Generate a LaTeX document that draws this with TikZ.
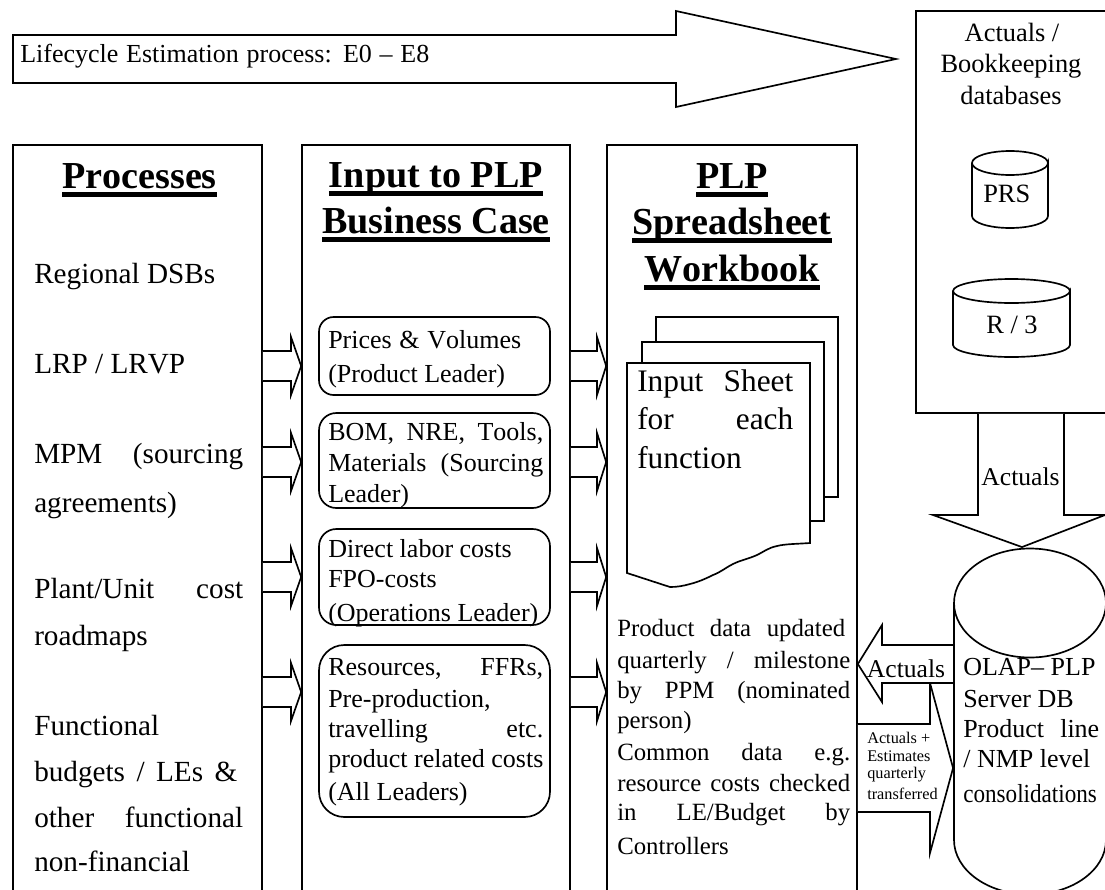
\documentclass[tikz,border=0pt]{standalone}
\usepackage{fontspec}
\usepackage{graphicx}
\setmainfont[Kerning=Off]{Liberation Serif}
\newlength\ulw
\newcommand\UL[1]{\settowidth\ulw{#1}\rlap{\rule[-0.237em]{\ulw}{0.13em}}#1}
\newcommand\fs[1]{\fontsize{#1}{#1}\selectfont}
\newcommand\Ln[6][19.5]{\node[txt,font=\fs{#1}] (#2) at (#3,#4) {\makebox[\dimexpr #5pt*3/4\relax][s]{#6}};}
\newcommand\Lf[5][19.5]{\node[txt,font=\fs{#1}] (#2) at (#3,#4) {#5};}
\newcommand\Ct[5][19.5]{\node[ctr,font=\fs{#1}] (#2) at (#3,#4) {#5};}
% right-pointing block arrow: from node, to node, y, head x, half shaft, half head
\newcommand\RArrow[6]{\draw[blk] (#1.east|-0,{#3-#5}) -- (#4,{#3-#5}) -- (#4,{#3-#6}) -- (#2.west|-0,#3) -- (#4,{#3+#6}) -- (#4,{#3+#5}) -- (#1.east|-0,{#3+#5});}
\tikzset{
 x=0.75pt,y=-0.75pt,
 panel/.style={draw,line width=1.25pt,fill=white,inner sep=0pt},
 blk/.style={draw,line width=1.25pt,fill=white,line join=miter},
 txt/.style={anchor=base west,inner sep=0pt},
 ctr/.style={anchor=base,inner sep=0pt,align=center},
 card/.style={draw,line width=1.25pt,fill=white},
}
\begin{document}
\begin{tikzpicture}
\useasboundingbox (0,0) rectangle (1105,889);
\clip (0,0) rectangle (1105,889);
\fill[white] (0,0) rectangle (1105,889);
% panels
\node[panel,minimum width=186.75pt,minimum height=603.75pt] (proc) at (137.5,547.5) {};
\node[panel,minimum width=201pt,minimum height=603.75pt] (inp) at (436,547.5) {};
\node[panel,minimum width=187.5pt,minimum height=603.75pt] (plp) at (732,547.5) {};
\node[panel,minimum width=213pt,minimum height=301.5pt] (act) at (1058,212) {};
% big arrow
\draw[blk] (13,35) -- (676,35) -- (676,11) -- (896,59) -- (676,107) -- (676,83) -- (13,83) -- cycle;
\Ln[19.5]{lctext}{20}{62}{409}{Lifecycle Estimation process: E0 – E8}
% headings
\Ct[28.6]{h1}{139.5}{188}{\textbf{\UL{Processes}}}
\Ct[28.6]{h2a}{436}{187}{\textbf{\UL{Input to PLP}}}
\Ct[28.6]{h2b}{436}{233}{\textbf{\UL{Business Case}}}
\Ct[28.6]{h3a}{732}{188}{\textbf{\UL{PLP}}}
\Ct[28.6]{h3b}{732}{234}{\textbf{\UL{Spreadsheet}}}
\Ct[28.6]{h3c}{732}{281}{\textbf{\UL{Workbook}}}
% processes text
\Lf[21.9]{p1}{34}{283}{Regional DSBs}
\Lf[21.9]{p2}{34}{373}{LRP / LRVP}
\Ln[21.9]{p3}{34}{463}{209}{MPM (sourcing}
\Lf[21.9]{p4}{34}{512}{agreements)}
\Ln[21.9]{p5}{34}{598}{209}{Plant/Unit cost}
\Lf[21.9]{p6}{34}{645}{roadmaps}
\Lf[21.9]{p7}{34}{735}{Functional}
\Ln[21.9]{p8}{34}{781}{203}{budgets / LEs \&}
\Ln[21.9]{p9}{34}{827}{209}{other functional}
\Lf[21.9]{p10}{34}{871}{non-financial}
% input cards
\draw[card,rounded corners=11pt] (319,317) rectangle (550,395);
\draw[card,rounded corners=13pt] (319,413) rectangle (550,508);
\draw[card,rounded corners=13pt] (319,529) rectangle (550,625);
\draw[card,rounded corners=19pt] (319,645) rectangle (550,817);
\Ln{c1a}{328}{348}{193}{Prices \& Volumes}
\Lf{c1b}{328}{382}{(Product Leader)}
\Ln{c2a}{328}{440}{215}{BOM, NRE, Tools,}
\Ln{c2b}{328}{471}{215}{Materials (Sourcing}
\Lf{c2c}{328}{502}{Leader)}
\Lf{c3a}{328}{557}{Direct labor costs}
\Lf{c3b}{328}{587}{FPO-costs}
\Lf{c3c}{328}{621}{(Operations Leader)}
\Ln{c4a}{328}{675}{215}{Resources, FFRs,}
\Lf{c4b}{328}{707}{Pre-production,}
\Ln{c4c}{328}{737}{215}{travelling etc.}
\Lf{c4d}{328}{767}{product related costs}
\Lf{c4e}{328}{800}{(All Leaders)}
% small arrows
\foreach \yy in {366,462,577,692} {\RArrow{proc}{inp}{\yy}{291}{15}{29}}
\foreach \yy in {366,462,577,692} {\RArrow{inp}{plp}{\yy}{597}{15}{29}}
% document stack
\draw[blk] (656,317) rectangle (838,497);
\draw[blk] (642,342) rectangle (824,521);
\draw[blk] (627,363) -- (810,363) -- (810,543) .. controls (795,544) and (785,544) .. (777,546) .. controls (768,548) and (765,551) .. (757,555) .. controls (748,559) and (741,560) .. (733,564) .. controls (725,568) and (721,572) .. (713,575) .. controls (705,579) and (698,582) .. (690,584) .. controls (683,586) and (677,587) .. (670,587) -- (627,573) -- cycle;
\Ln[23.5]{d1}{637}{391}{156}{Input Sheet}
\Ln[23.5]{d2}{637}{429}{156}{for each}
\Lf[23.5]{d3}{637}{468}{function}
% plp text
\Ln[18.6]{t1}{617}{636}{228}{Product data updated}
\Ln[18.6]{t2}{617}{668}{233}{quarterly / milestone}
\Ln[18.6]{t3}{617}{698}{233}{by PPM (nominated}
\Lf[18.6]{t4}{617}{728}{person)}
\Ln[18.6]{t5}{617}{760}{233}{Common data e.g.}
\Ln[18.6]{t6}{617}{791}{233}{resource costs checked}
\Ln[18.6]{t7}{617}{820}{233}{in LE/Budget by}
\Lf[18.6]{t8}{617}{854}{Controllers}
% actuals box
\Ct[19.8]{a1}{1012}{41}{Actuals /}
\Ct[19.8]{a2}{1011}{72}{Bookkeeping}
\Ct[19.8]{a3}{1011}{104}{databases}
\draw[blk] (972,163) -- (972,216) arc[start angle=180,end angle=360,x radius=38,y radius=-12] -- (1048,163) arc[start angle=0,end angle=360,x radius=38,y radius=12];
\Lf[19.8]{prs}{983}{202}{PRS}
\draw[blk] (953,291) -- (953,345) arc[start angle=180,end angle=360,x radius=58.5,y radius=-12] -- (1070,291) arc[start angle=0,end angle=360,x radius=58.5,y radius=12];
\Ct[19.8]{r3}{1012}{333}{R / 3}
% named reference points on the OLAP cylinder
\node[inner sep=0pt] (olap) at (954,700) {};
\node[inner sep=0pt] (olapn) at (1022,548) {};
% down arrow
\draw[blk] (act.south-|978,0) -- (978,515) -- (933,515) -- (olapn.north) -- (1105,515) -- (1064,515) -- (act.south-|1064,0);
\Ct[19.2]{da}{1020.5}{485}{Actuals}
% right arrow
\RArrow{plp}{olap}{768}{930}{44}{85}
\Lf[12.2]{r1}{867}{743}{Actuals +}
\Lf[12.2]{r2}{867}{761}{Estimates}
\Lf[12.2]{r3b}{867}{778}{quarterly}
\Lf[12.2]{r4}{867}{799}{transferred}
% left arrow
\draw[blk] (olap.west|-0,645) -- (882,645) -- (882,625) -- (plp.east|-0,664) -- (882,702) -- (882,683) -- (olap.west|-0,683);
\Ct[19.2]{la}{906}{677}{Actuals}
% big cylinder
\draw[blk] (954,603) -- (954,840) arc[start angle=180,end angle=360,x radius=76,y radius=-54.5] -- (1106,603) arc[start angle=0,end angle=360,x radius=76,y radius=54.5];
% olap text
\Lf{o1}{963}{675}{OLAP– PLP}
\Lf{o2}{963}{707}{Server DB}
\Ln{o3}{963}{737}{136}{Product line}
\Lf{o4}{963}{767}{/ NMP level}
\Lf{o5}{963}{802}{\scalebox{0.89}[1]{consolidations}}
\end{tikzpicture}
\end{document}
